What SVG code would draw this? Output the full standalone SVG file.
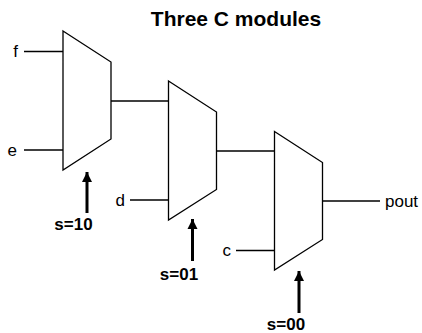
<svg xmlns="http://www.w3.org/2000/svg" width="422" height="333" viewBox="0 0 422 333">
<defs>
<style>
.mux{fill:#fff;stroke:#000;stroke-width:1.3;stroke-linejoin:miter}
.w{stroke:#000;stroke-width:1.3;fill:none}
.sel{stroke:#000;stroke-width:3;fill:none}
.lbl{font-family:"Liberation Sans",Arial,sans-serif;font-size:17px;fill:#000}
.sl{font-family:"Liberation Sans",Arial,sans-serif;font-size:17px;font-weight:bold;fill:#000;text-anchor:middle}
.title{font-family:"Liberation Sans",Arial,sans-serif;font-size:21px;font-weight:bold;fill:#000;text-anchor:middle}
</style>
<marker id="ah" viewBox="0 0 10 12" refX="10" refY="6" markerWidth="10" markerHeight="12" markerUnits="userSpaceOnUse" orient="auto">
<path d="M0,1 L10,6 L0,11 Z" fill="#000"/>
</marker>
</defs>
<rect width="422" height="333" fill="#fff"/>
<text class="title" x="236" y="26">Three C modules</text>
<g id="connectors">
<line class="w" x1="24" y1="51.5" x2="63" y2="51.5"/>
<line class="w" x1="24" y1="150" x2="63" y2="150"/>
<line class="w" x1="111" y1="101" x2="168.5" y2="101"/>
<line class="w" x1="130" y1="200" x2="168.5" y2="200"/>
<line class="w" x1="216.5" y1="151" x2="274.5" y2="151"/>
<line class="w" x1="236" y1="250.5" x2="274.5" y2="250.5"/>
<line class="w" x1="322.5" y1="201" x2="380" y2="201"/>
<line class="sel" x1="87" y1="213" x2="87" y2="172" marker-end="url(#ah)"/>
<line class="sel" x1="192.5" y1="261" x2="192.5" y2="219" marker-end="url(#ah)"/>
<line class="sel" x1="299" y1="313" x2="299" y2="271" marker-end="url(#ah)"/>
</g>
<g id="mux1"><polygon class="mux" points="63,31 111,62 111,139 63,170"/></g>
<g id="mux2"><polygon class="mux" points="168.5,81 216.5,112 216.5,189.5 168.5,220"/></g>
<g id="mux3"><polygon class="mux" points="274.5,131.5 322.5,162.5 322.5,239.5 274.5,270"/></g>
<g id="labels">
<text class="lbl" x="18" y="57" text-anchor="end">f</text>
<text class="lbl" x="17" y="156" text-anchor="end">e</text>
<text class="lbl" x="125" y="206" text-anchor="end">d</text>
<text class="lbl" x="231" y="256" text-anchor="end">c</text>
<text class="lbl" x="385" y="207">pout</text>
<text class="sl" x="73.5" y="230">s=10</text>
<text class="sl" x="179" y="280">s=01</text>
<text class="sl" x="286" y="330">s=00</text>
</g>
</svg>
